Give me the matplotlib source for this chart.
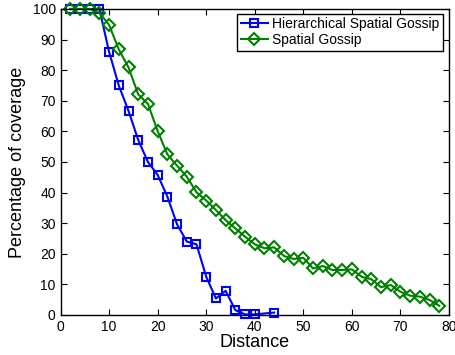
import matplotlib
matplotlib.use("Agg")
import matplotlib.pyplot as plt

plt.rcParams["font.family"] = ["Liberation Sans", "DejaVu Sans"]

hsg_x = [2, 4, 6, 8, 10, 12, 14, 16, 18, 20, 22, 24, 26, 28, 30, 32, 34, 36, 38, 40, 44]
hsg_y = [100, 100, 100, 100, 86, 75, 66.7, 57.2, 50, 45.8, 38.7, 29.6, 24, 23.1, 12.5, 5.4, 7.9,
         1.6, 0.2, 0.2, 0.8]

sg_x = list(range(2, 80, 2))
sg_y = [100, 100, 100, 98.8, 94.8, 86.8, 80.9, 72.1, 69, 60.1, 52.5, 48.8, 45.2, 40.1, 37.4,
        34.3, 31, 28.3, 25.6, 23.1, 21.8, 22.1, 19.3, 18.3, 18.7, 15.2, 16, 14.7, 14.7, 14.9,
        12.5, 11.7, 9.1, 9.8, 7.6, 6.3, 6, 4.9, 3]

fig = plt.figure(figsize=(4.56, 3.55), dpi=100)
ax = fig.add_axes([0.1327, 0.1127, 0.852, 0.862])

ax.plot(hsg_x, hsg_y, color="#0000ff", marker="s", markersize=6, markerfacecolor="none",
        markeredgewidth=1.5, linewidth=1.5, label="Hierarchical Spatial Gossip", clip_on=False)
ax.plot(sg_x, sg_y, color="#008000", marker="D", markersize=6.5, markerfacecolor="none",
        markeredgewidth=1.5, linewidth=1.5, label="Spatial Gossip", clip_on=False)

ax.set_xlim(0, 80)
ax.set_ylim(0, 100)
ax.set_xticks(range(0, 81, 10))
ax.set_yticks(range(0, 101, 10))
ax.tick_params(direction="in", top=True, right=True, labelsize=10, length=4, width=0.8)
for s in ax.spines.values():
    s.set_linewidth(1.0)

ax.set_xlabel("Distance", fontsize=13, labelpad=0)
ax.set_ylabel("Percentage of coverage", fontsize=13, labelpad=5)

leg = ax.legend(loc="upper right", fontsize=10, fancybox=False, framealpha=1,
                bbox_to_anchor=(0.985, 0.985), borderaxespad=0, borderpad=0.25,
                labelspacing=0.15, handlelength=2.0, handletextpad=0.3)
leg.get_frame().set_edgecolor("black")
leg.get_frame().set_linewidth(1.0)

fig.savefig("out.png", dpi=100)
